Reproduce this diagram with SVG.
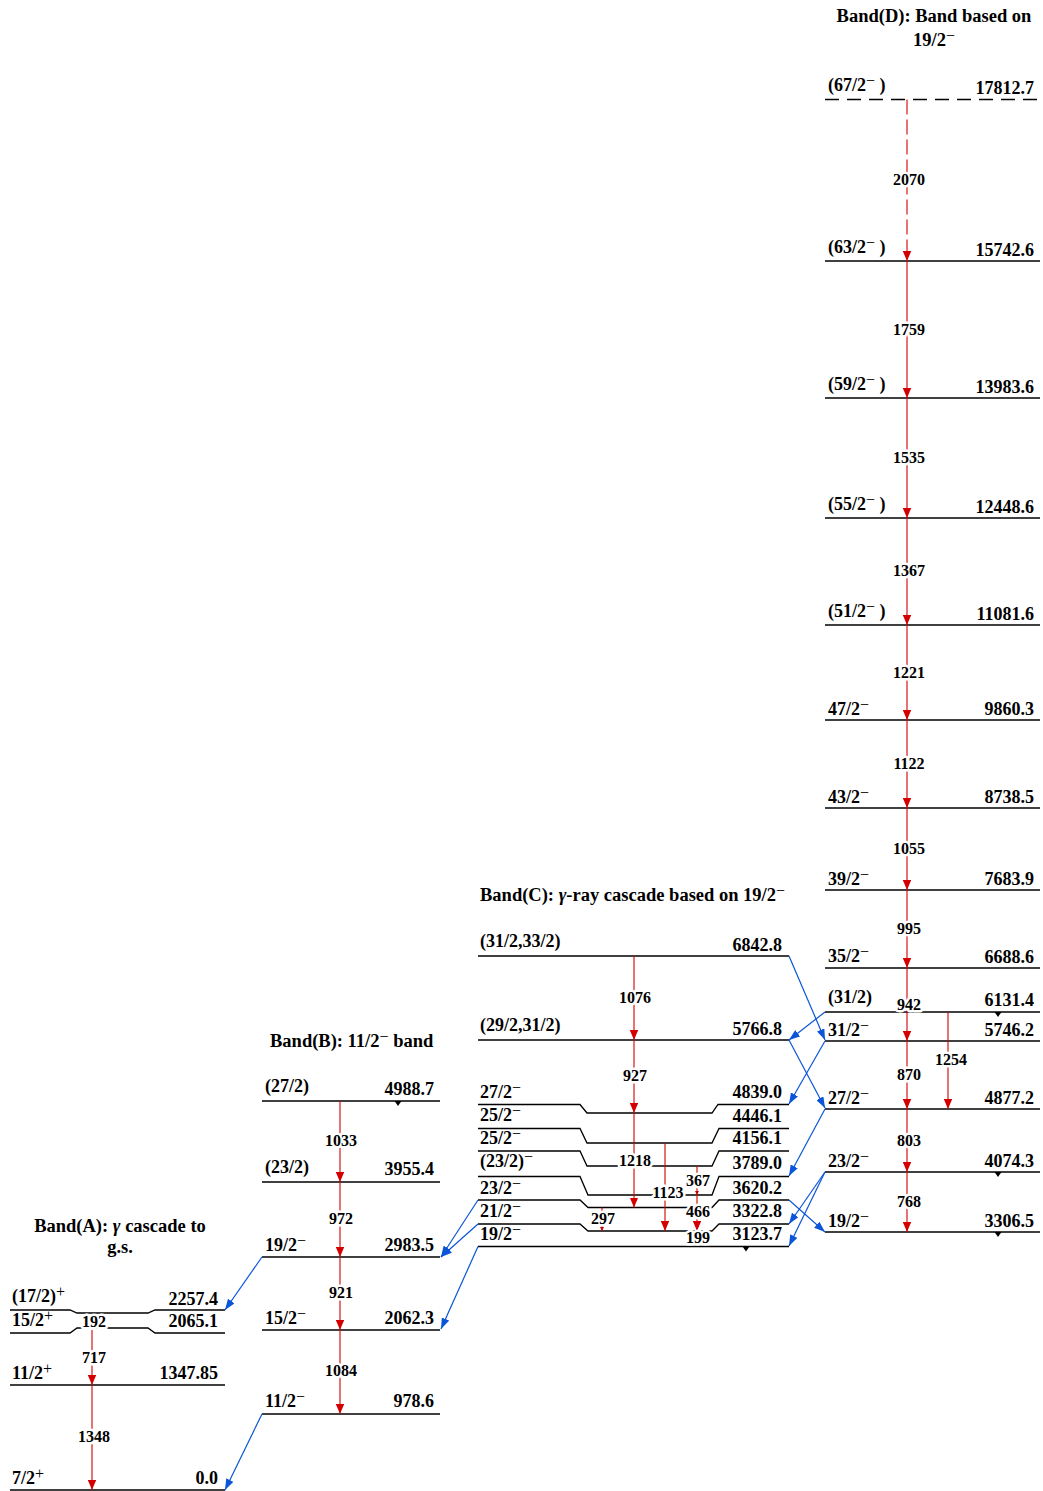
<svg xmlns="http://www.w3.org/2000/svg" width="1043" height="1491" viewBox="0 0 1043 1491">
<style>
text{font-family:"Liberation Serif","Times New Roman",serif;font-weight:bold;fill:#000}
.lv{font-size:18px}
.r{text-anchor:end}
.ttl{font-size:18.5px}
.c{text-anchor:middle}
.tr{font-size:16px;text-anchor:middle;stroke:#fff;stroke-width:5;paint-order:stroke;stroke-linejoin:round}
.sup{font-size:16px;font-weight:normal}
.lvl{fill:none;stroke:#000;stroke-width:1.3}
.dash{stroke-dasharray:14 8}
.g{stroke:#d40000;stroke-width:1.1;fill:none}
.gd{stroke-dasharray:15 5}
.b{stroke:#0a55d8;stroke-width:1.2;fill:none;marker-end:url(#arB)}
.tri{fill:#000}
</style>
<defs>
<marker id="ar" viewBox="0 0 10 8.5" refX="10" refY="4.25" markerWidth="10" markerHeight="8.5" markerUnits="userSpaceOnUse" orient="auto"><path d="M0,0 L10,4.25 L0,8.5z" fill="#d40000"/></marker>
<marker id="arS" viewBox="0 0 10 10" refX="10" refY="5" markerWidth="4" markerHeight="4.5" markerUnits="userSpaceOnUse" orient="auto"><path d="M0,0 L10,5 L0,10z" fill="#d40000"/></marker>
<marker id="arB" viewBox="0 0 11 8" refX="11" refY="4" markerWidth="11" markerHeight="8" markerUnits="userSpaceOnUse" orient="auto"><path d="M0,0 L11,4 L0,8z" fill="#0a55d8"/></marker>
</defs>

<!-- Titles -->
<g id="titles">
<text class="ttl c" x="934" y="22">Band(D): Band based on</text>
<text class="ttl c" x="934" y="46">19/2<tspan class="sup" dy="-5">−</tspan></text>
<text class="ttl" x="480" y="901">Band(C): <tspan font-style="italic">γ</tspan>-ray cascade based on 19/2<tspan class="sup" dy="-5">−</tspan></text>
<text class="ttl" x="270" y="1047">Band(B): 11/2<tspan class="sup" dy="-5">−</tspan><tspan dy="5"> band</tspan></text>
<text class="ttl c" x="120" y="1232">Band(A): <tspan font-style="italic">γ</tspan> cascade to</text>
<text class="ttl c" x="120" y="1253">g.s.</text>
</g>

<!-- Band A -->
<g id="bandA">
<g id="A_0"><path class="lvl" d="M10,1490 H225"/><text class="lv" x="12" y="1484">7/2<tspan class="sup" dy="-5">+</tspan></text><text class="lv r" x="218" y="1484">0.0</text></g>
<g id="A_1347"><path class="lvl" d="M10,1385 H225"/><text class="lv" x="12" y="1379">11/2<tspan class="sup" dy="-5">+</tspan></text><text class="lv r" x="218" y="1379">1347.85</text></g>
<g id="A_2065"><path class="lvl" d="M10,1333 H70 L77,1328 H148 L155,1333 H225"/><text class="lv" x="12" y="1326">15/2<tspan class="sup" dy="-5">+</tspan></text><text class="lv r" x="218" y="1327">2065.1</text></g>
<g id="A_2257"><path class="lvl" d="M10,1310 H70 L77,1313 H148 L155,1310 H225"/><text class="lv" x="12" y="1302">(17/2)<tspan class="sup" dy="-5">+</tspan></text><text class="lv r" x="218" y="1305">2257.4</text></g>
</g>

<!-- Band B -->
<g id="bandB">
<g id="B_978"><path class="lvl" d="M262,1414 H440"/><text class="lv" x="265" y="1407">11/2<tspan class="sup" dy="-5">−</tspan></text><text class="lv r" x="434" y="1407">978.6</text></g>
<g id="B_2062"><path class="lvl" d="M262,1330 H440"/><text class="lv" x="265" y="1324">15/2<tspan class="sup" dy="-5">−</tspan></text><text class="lv r" x="434" y="1324">2062.3</text></g>
<g id="B_2983"><path class="lvl" d="M262,1257 H440"/><text class="lv" x="265" y="1251">19/2<tspan class="sup" dy="-5">−</tspan></text><text class="lv r" x="434" y="1251">2983.5</text></g>
<g id="B_3955"><path class="lvl" d="M262,1182 H440"/><text class="lv" x="265" y="1173">(23/2)</text><text class="lv r" x="434" y="1175">3955.4</text></g>
<g id="B_4988"><path class="lvl" d="M262,1101 H440"/><path class="tri" d="M394.5,1101 H401.5 L398,1106z"/><text class="lv" x="265" y="1092">(27/2)</text><text class="lv r" x="434" y="1095">4988.7</text></g>
</g>

<!-- Band C -->
<g id="bandC">
<g id="C_6842"><path class="lvl" d="M478,956 H789"/><text class="lv" x="480" y="947">(31/2,33/2)</text><text class="lv r" x="782" y="951">6842.8</text></g>
<g id="C_5766"><path class="lvl" d="M478,1040 H789"/><text class="lv" x="480" y="1031">(29/2,31/2)</text><text class="lv r" x="782" y="1035">5766.8</text></g>
<g id="C_4839"><path class="lvl" d="M478,1104.5 H580 L587,1113 H712 L718,1104.5 H789"/><text class="lv" x="480" y="1098">27/2<tspan class="sup" dy="-5">−</tspan></text><text class="lv r" x="782" y="1098">4839.0</text></g>
<g id="C_4446"><path class="lvl" d="M478,1128.5 H580 L587,1143 H712 L719,1128.5 H789"/><text class="lv" x="480" y="1121">25/2<tspan class="sup" dy="-5">−</tspan></text><text class="lv r" x="782" y="1122">4446.1</text></g>
<g id="C_4156"><path class="lvl" d="M478,1151 H580 L587,1166 H712 L719,1151 H789"/><text class="lv" x="480" y="1144">25/2<tspan class="sup" dy="-5">−</tspan></text><text class="lv r" x="782" y="1144">4156.1</text></g>
<g id="C_3789"><path class="lvl" d="M478,1176.5 H580 L588,1195 H712 L719,1176.5 H789"/><text class="lv" x="480" y="1167">(23/2)<tspan class="sup" dy="-5">−</tspan></text><text class="lv r" x="782" y="1169">3789.0</text></g>
<g id="C_3620"><path class="lvl" d="M478,1200 H580 L588,1207.5 H712 L719,1200 H789"/><text class="lv" x="480" y="1194">23/2<tspan class="sup" dy="-5">−</tspan></text><text class="lv r" x="782" y="1194">3620.2</text></g>
<g id="C_3322"><path class="lvl" d="M478,1224 H580 L588,1231 H712 L719,1224 H789"/><text class="lv" x="480" y="1217">21/2<tspan class="sup" dy="-5">−</tspan></text><text class="lv r" x="782" y="1217">3322.8</text></g>
<g id="C_3123"><path class="lvl" d="M478,1246.5 H789"/><path class="tri" d="M742.5,1246.5 H749.5 L746,1251.5z"/><text class="lv" x="480" y="1240">19/2<tspan class="sup" dy="-5">−</tspan></text><text class="lv r" x="782" y="1240">3123.7</text></g>
</g>

<!-- Band D -->
<g id="bandD">
<g id="D_17812"><path class="lvl dash" d="M825,99.5 H1040"/><text class="lv" x="828" y="91">(67/2<tspan class="sup" dy="-5">−</tspan><tspan dy="5"> )</tspan></text><text class="lv r" x="1034" y="94">17812.7</text></g>
<g id="D_15742"><path class="lvl" d="M825,261 H1040"/><text class="lv" x="828" y="253">(63/2<tspan class="sup" dy="-5">−</tspan><tspan dy="5"> )</tspan></text><text class="lv r" x="1034" y="256">15742.6</text></g>
<g id="D_13983"><path class="lvl" d="M825,398 H1040"/><text class="lv" x="828" y="390">(59/2<tspan class="sup" dy="-5">−</tspan><tspan dy="5"> )</tspan></text><text class="lv r" x="1034" y="393">13983.6</text></g>
<g id="D_12448"><path class="lvl" d="M825,518 H1040"/><text class="lv" x="828" y="510">(55/2<tspan class="sup" dy="-5">−</tspan><tspan dy="5"> )</tspan></text><text class="lv r" x="1034" y="513">12448.6</text></g>
<g id="D_11081"><path class="lvl" d="M825,625 H1040"/><text class="lv" x="828" y="617">(51/2<tspan class="sup" dy="-5">−</tspan><tspan dy="5"> )</tspan></text><text class="lv r" x="1034" y="620">11081.6</text></g>
<g id="D_9860"><path class="lvl" d="M825,720 H1040"/><text class="lv" x="828" y="715">47/2<tspan class="sup" dy="-5">−</tspan></text><text class="lv r" x="1034" y="715">9860.3</text></g>
<g id="D_8738"><path class="lvl" d="M825,808 H1040"/><text class="lv" x="828" y="803">43/2<tspan class="sup" dy="-5">−</tspan></text><text class="lv r" x="1034" y="803">8738.5</text></g>
<g id="D_7683"><path class="lvl" d="M825,890 H1040"/><text class="lv" x="828" y="885">39/2<tspan class="sup" dy="-5">−</tspan></text><text class="lv r" x="1034" y="885">7683.9</text></g>
<g id="D_6688"><path class="lvl" d="M825,968 H1040"/><text class="lv" x="828" y="962">35/2<tspan class="sup" dy="-5">−</tspan></text><text class="lv r" x="1034" y="963">6688.6</text></g>
<g id="D_6131"><path class="lvl" d="M825,1012 H1040"/><path class="tri" d="M994.5,1012 H1001.5 L998,1017z"/><text class="lv" x="828" y="1003">(31/2)</text><text class="lv r" x="1034" y="1006">6131.4</text></g>
<g id="D_5746"><path class="lvl" d="M825,1041 H1040"/><text class="lv" x="828" y="1036">31/2<tspan class="sup" dy="-5">−</tspan></text><text class="lv r" x="1034" y="1036">5746.2</text></g>
<g id="D_4877"><path class="lvl" d="M825,1109 H1040"/><text class="lv" x="828" y="1104">27/2<tspan class="sup" dy="-5">−</tspan></text><text class="lv r" x="1034" y="1104">4877.2</text></g>
<g id="D_4074"><path class="lvl" d="M825,1172 H1040"/><path class="tri" d="M994.5,1172 H1001.5 L998,1177z"/><text class="lv" x="828" y="1167">23/2<tspan class="sup" dy="-5">−</tspan></text><text class="lv r" x="1034" y="1167">4074.3</text></g>
<g id="D_3306"><path class="lvl" d="M825,1232 H1040"/><path class="tri" d="M994.5,1232 H1001.5 L998,1237z"/><text class="lv" x="828" y="1227">19/2<tspan class="sup" dy="-5">−</tspan></text><text class="lv r" x="1034" y="1227">3306.5</text></g>
</g>

<!-- Connectors -->
<g id="connectors">
<path class="g" d="M92,1330 V1385" marker-end="url(#ar)"/>
<path class="g" d="M92,1385 V1490" marker-end="url(#ar)"/>
<path class="g" d="M340,1101 V1182" marker-end="url(#ar)"/>
<path class="g" d="M340,1182 V1257" marker-end="url(#ar)"/>
<path class="g" d="M340,1257 V1330" marker-end="url(#ar)"/>
<path class="g" d="M340,1330 V1414" marker-end="url(#ar)"/>
<path class="g" d="M634,956 V1040" marker-end="url(#ar)"/>
<path class="g" d="M634,1040 V1113" marker-end="url(#ar)"/>
<path class="g" d="M634,1113 V1207.5" marker-end="url(#ar)"/>
<path class="g" d="M665,1143 V1231" marker-end="url(#ar)"/>
<path class="g" d="M697,1166 V1195" marker-end="url(#arS)"/>
<path class="g" d="M697,1195 V1231" marker-end="url(#ar)"/>
<path class="g" d="M602,1207.5 V1231" marker-end="url(#arS)"/>
<path class="g gd" d="M907,99.5 V261" marker-end="url(#ar)"/>
<path class="g" d="M907,261 V398" marker-end="url(#ar)"/>
<path class="g" d="M907,398 V518" marker-end="url(#ar)"/>
<path class="g" d="M907,518 V625" marker-end="url(#ar)"/>
<path class="g" d="M907,625 V720" marker-end="url(#ar)"/>
<path class="g" d="M907,720 V808" marker-end="url(#ar)"/>
<path class="g" d="M907,808 V890" marker-end="url(#ar)"/>
<path class="g" d="M907,890 V968" marker-end="url(#ar)"/>
<path class="g" d="M907,968 V1041" marker-end="url(#ar)"/>
<path class="g" d="M907,1041 V1109" marker-end="url(#ar)"/>
<path class="g" d="M907,1109 V1172" marker-end="url(#ar)"/>
<path class="g" d="M907,1172 V1232" marker-end="url(#ar)"/>
<path class="g" d="M948,1012 V1109" marker-end="url(#ar)"/>
<path class="b" d="M262,1257 L225,1310"/>
<path class="b" d="M262,1414 L225,1490"/>
<path class="b" d="M478,1200 L441,1257"/>
<path class="b" d="M478,1224 L441,1257"/>
<path class="b" d="M478,1246.5 L441,1329"/>
<path class="b" d="M789,956 L825,1040"/>
<path class="b" d="M825,1012 L789,1040"/>
<path class="b" d="M789,1040 L825,1108"/>
<path class="b" d="M825,1041 L789,1104"/>
<path class="b" d="M825,1109 L789,1176"/>
<path class="b" d="M825,1172 L789,1224"/>
<path class="b" d="M825,1172 L789,1246"/>
<path class="b" d="M789,1200 L825,1232"/>
<text class="tr" x="94" y="1327">192</text>
<text class="tr" x="94" y="1363">717</text>
<text class="tr" x="94" y="1442">1348</text>
<text class="tr" x="341" y="1146">1033</text>
<text class="tr" x="341" y="1224">972</text>
<text class="tr" x="341" y="1298">921</text>
<text class="tr" x="341" y="1376">1084</text>
<text class="tr" x="635" y="1003">1076</text>
<text class="tr" x="635" y="1081">927</text>
<text class="tr" x="635" y="1166">1218</text>
<text class="tr" x="668" y="1198">1123</text>
<text class="tr" x="698" y="1186">367</text>
<text class="tr" x="698" y="1217">466</text>
<text class="tr" x="603" y="1224">297</text>
<text class="tr" x="698" y="1243">199</text>
<text class="tr" x="909" y="185">2070</text>
<text class="tr" x="909" y="335">1759</text>
<text class="tr" x="909" y="463">1535</text>
<text class="tr" x="909" y="576">1367</text>
<text class="tr" x="909" y="678">1221</text>
<text class="tr" x="909" y="769">1122</text>
<text class="tr" x="909" y="854">1055</text>
<text class="tr" x="909" y="934">995</text>
<text class="tr" x="909" y="1010">942</text>
<text class="tr" x="909" y="1080">870</text>
<text class="tr" x="909" y="1146">803</text>
<text class="tr" x="909" y="1207">768</text>
<text class="tr" x="951" y="1065">1254</text>
</g>
</svg>
